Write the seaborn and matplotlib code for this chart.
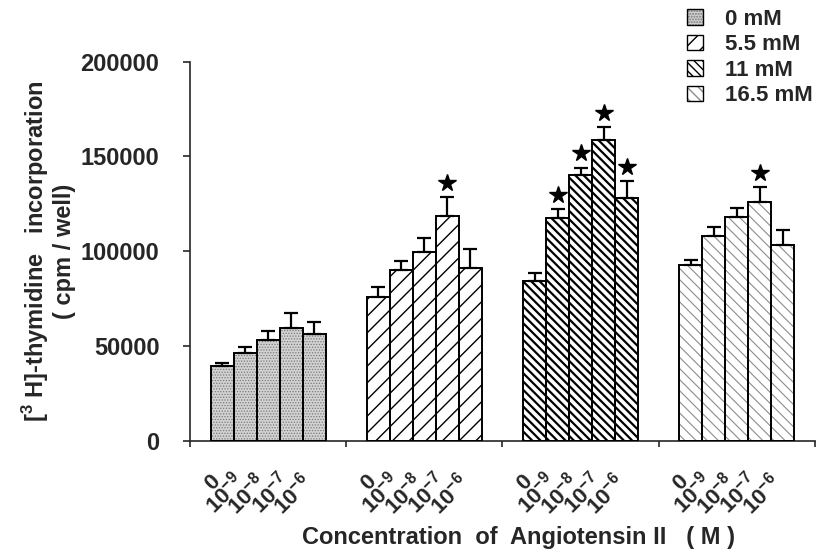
import numpy as np
import pandas as pd
import matplotlib
matplotlib.use('Agg')
import matplotlib.pyplot as plt
from matplotlib.patches import Patch, Rectangle
from matplotlib.transforms import ScaledTranslation
import seaborn as sns

# values
glucose = ['0 mM', '5.5 mM', '11 mM', '16.5 mM']
conc = ['0', '10^-9', '10^-8', '10^-7', '10^-6']
conc_labels = ['0', r'$\mathbf{10^{-9}}$', r'$\mathbf{10^{-8}}$',
               r'$\mathbf{10^{-7}}$', r'$\mathbf{10^{-6}}$']

mean_0 = [39200, 46300, 53200, 59600, 56400]
mean_55 = [75900, 90200, 99400, 118400, 91000]
mean_11 = [84200, 117700, 140300, 158900, 128200]
mean_165 = [92600, 108200, 118100, 126000, 103400]

err_0 = [1800, 3000, 4800, 7600, 6000]
err_55 = [5100, 4700, 7400, 10200, 10200]
err_11 = [4100, 4600, 3800, 6400, 8900]
err_165 = [2800, 4600, 4500, 7700, 7900]

sig_0 = [0, 0, 0, 0, 0]
sig_55 = [0, 0, 0, 1, 0]
sig_11 = [0, 1, 1, 1, 1]
sig_165 = [0, 0, 0, 1, 0]

means = [mean_0, mean_55, mean_11, mean_165]
errs = [err_0, err_55, err_11, err_165]
sigs = [sig_0, sig_55, sig_11, sig_165]

rows = []
for g, name in enumerate(glucose):
    for k, c in enumerate(conc):
        rows.append({'glucose': name, 'conc': c, 'value': means[g][k],
                     'err': errs[g][k], 'sig': sigs[g][k]})
df = pd.DataFrame(rows)

sns.set_style('ticks')
plt.rcParams['font.family'] = ['Liberation Sans', 'DejaVu Sans']
plt.rcParams['font.weight'] = 'bold'
plt.rcParams['mathtext.fontset'] = 'custom'
plt.rcParams['mathtext.rm'] = 'Liberation Sans:bold'
plt.rcParams['mathtext.bf'] = 'Liberation Sans:bold'

FS = 17

# fill colour, hatch, hatch colour, hatch linewidth per glucose group
styles = [
    ('#d2d2d2', '......', '#7a7a7a', 0.6),
    ('white', '//', 'black', 1.0),
    ('white', '\\\\\\\\', 'black', 1.6),
    ('white', '\\\\\\', '#8c8c8c', 0.8),
]

fig = plt.figure(figsize=(8.22, 5.59), dpi=100)
ax = fig.add_axes([0.2311, 0.2116, 0.7604, 0.678])

width = 0.735
sns.barplot(data=df, x='glucose', y='value', hue='conc', order=glucose,
            hue_order=conc, dodge=True, width=width, errorbar=None,
            legend=False, ax=ax)

bw = width / len(conc)
xs, ys, es, ss = [], [], [], []
for p in list(ax.patches):
    if p.get_height() <= 0:
        continue
    cx = p.get_x() + p.get_width() / 2
    g = int(round(cx))
    k = int(round((cx - g) / bw + (len(conc) - 1) / 2))
    fc, hatch, hc, hlw = styles[g]
    p.set_facecolor(fc)
    p.set_hatch(hatch)
    p.set_edgecolor(hc)
    p.set_linewidth(0)
    if hasattr(p, 'set_hatch_linewidth'):
        p.set_hatch_linewidth(hlw)
    ax.add_patch(Rectangle((p.get_x(), 0), p.get_width(), p.get_height(),
                           fill=False, edgecolor='black', linewidth=1.4, zorder=3))
    xs.append(cx)
    ys.append(p.get_height())
    es.append(errs[g][k])
    ss.append(sigs[g][k])

xs = np.array(xs)
ys = np.array(ys)
es = np.array(es)
ss = np.array(ss)

ax.errorbar(xs, ys, yerr=[np.zeros_like(es), es], fmt='none', ecolor='black',
            elinewidth=1.6, capsize=5, capthick=1.6, zorder=4)
star = ss == 1
ax.plot(xs[star], ys[star] + es[star] + 7500, linestyle='none', marker='*',
        markersize=13, color='black', zorder=5)

ax.set_xlim(-0.5, 3.5)
ax.set_ylim(0, 200000)
ax.set_yticks([0, 50000, 100000, 150000, 200000])
ax.set_yticklabels(['0', '50000', '100000', '150000', '200000'])
ax.tick_params(axis='y', labelsize=FS, length=5, width=1.2, pad=17)
ax.set_xticks([-0.5, 0.5, 1.5, 2.5, 3.5])
ax.set_xticklabels([])
ax.tick_params(axis='x', which='major', length=4, width=1.2)

order = np.argsort(xs)
ax.set_xticks(xs[order], minor=True)
lbls = []
for i in order:
    k = int(round((xs[i] - round(xs[i])) / bw + 2))
    lbls.append(conc_labels[k])
ax.set_xticklabels(lbls, minor=True, rotation=45, ha='right', va='center',
                   rotation_mode='anchor', fontsize=16)
ax.tick_params(axis='x', which='minor', length=0, pad=27)
for t in ax.get_xticklabels(minor=True):
    t.set_transform(t.get_transform() + ScaledTranslation(-4 / 72, 0, fig.dpi_scale_trans))

for s in ['left', 'bottom']:
    ax.spines[s].set_linewidth(1.2)
sns.despine(ax=ax)

ax.set_xlabel('Concentration  of  Angiotensin II   ( M )', fontsize=FS, fontweight='bold')
ax.xaxis.set_label_coords(0.525, -0.225)
ax.set_ylabel('[$^{3}$ H]-thymidine   incorporation\n( cpm / well)', fontsize=FS,
              fontweight='bold', linespacing=1.1)
ax.yaxis.set_label_coords(-0.182, 0.5)

handles = []
for fc, hatch, hc, hlw in styles:
    fill = Patch(facecolor=fc, hatch=hatch, edgecolor=hc, linewidth=0)
    if hasattr(fill, 'set_hatch_linewidth'):
        fill.set_hatch_linewidth(hlw)
    outline = Patch(facecolor='none', edgecolor='black', linewidth=1.0)
    handles.append((fill, outline))
fig.legend(handles, glucose, loc='upper left', bbox_to_anchor=(0.836, 0.984),
           frameon=False, fontsize=16, handlelength=0.7, handleheight=0.7,
           handletextpad=1.0, labelspacing=0.2, borderpad=0, borderaxespad=0)

fig.savefig('out.png', dpi=100)
